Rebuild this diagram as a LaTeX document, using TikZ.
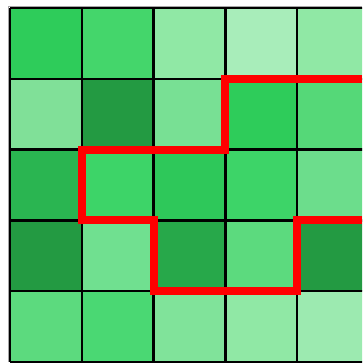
\documentclass[tikz,border=0pt]{standalone}
\usepackage{tikz}
\definecolor{cA}{HTML}{2ECC5A}
\definecolor{cB}{HTML}{44D66B}
\definecolor{cC}{HTML}{90E8A5}
\definecolor{cD}{HTML}{A8EDBA}
\definecolor{cE}{HTML}{80E098}
\definecolor{cF}{HTML}{239A42}
\definecolor{cG}{HTML}{78E094}
\definecolor{cH}{HTML}{55D878}
\definecolor{cI}{HTML}{2AB551}
\definecolor{cJ}{HTML}{3DD468}
\definecolor{cK}{HTML}{2EC85A}
\definecolor{cL}{HTML}{6CDD8C}
\definecolor{cM}{HTML}{70E090}
\definecolor{cN}{HTML}{27A84A}
\definecolor{cO}{HTML}{5CDA7E}
\definecolor{cP}{HTML}{4AD873}
\definecolor{cQ}{HTML}{80E39A}
\definecolor{cR}{HTML}{9CEAB0}
\definecolor{pathred}{HTML}{FF0000}
\tikzset{
  cellbox/.style={draw=black, line width=2.4pt},
  route/.style={draw=pathred, line width=8pt, line join=miter, line cap=butt}
}
\begin{document}
\begin{tikzpicture}[x=1pt,y=-1pt]
\useasboundingbox (0,0) rectangle (362,363);
\clip (0,0) rectangle (362,363);
\fill[white] (0,0) rectangle (362,363);
\def\cw{71.8}
\def\ch{70.8}
\def\ox{10}
\def\oy{8}
\foreach \row/\cols in {0/{cA,cB,cC,cD,cC},1/{cE,cF,cG,cA,cH},2/{cI,cJ,cK,cJ,cL},3/{cF,cM,cN,cO,cF},4/{cO,cP,cQ,cC,cR}}{
  \foreach \c [count=\i from 0] in \cols {
    \fill[\c] ({\ox+\i*\cw},{\oy+\row*\ch}) rectangle ++(\cw,\ch);
  }
}
\foreach \i in {0,...,5} {
  \draw[black, line width=2.4pt] ({\ox+\i*\cw},\oy) -- ({\ox+\i*\cw},{\oy+5*\ch});
  \draw[black, line width=2.4pt] (\ox,{\oy+\i*\ch}) -- ({\ox+5*\cw},{\oy+\i*\ch});
}
\draw[gray!70, line width=1pt] ({\ox-1.6},{\oy+5*\ch}) -- ({\ox-1.6},{\oy-1.6}) -- (362,{\oy-1.6});
\coordinate (pA) at (362,{\oy+1*\ch});
\coordinate (pB) at ({\ox+3*\cw},{\oy+1*\ch});
\coordinate (pC) at ({\ox+3*\cw},{\oy+2*\ch});
\coordinate (pD) at ({\ox+1*\cw},{\oy+2*\ch});
\coordinate (pE) at ({\ox+1*\cw},{\oy+3*\ch});
\coordinate (pF) at ({\ox+2*\cw},{\oy+3*\ch});
\coordinate (pG) at ({\ox+2*\cw},{\oy+4*\ch});
\coordinate (pH) at ({\ox+4*\cw},{\oy+4*\ch});
\coordinate (pI) at ({\ox+4*\cw},{\oy+3*\ch});
\coordinate (pJ) at (362,{\oy+3*\ch});
\draw[route] (pA) -- (pB) -- (pC) -- (pD) -- (pE) -- (pF) -- (pG) -- (pH) -- (pI) -- (pJ);
\end{tikzpicture}
\end{document}
